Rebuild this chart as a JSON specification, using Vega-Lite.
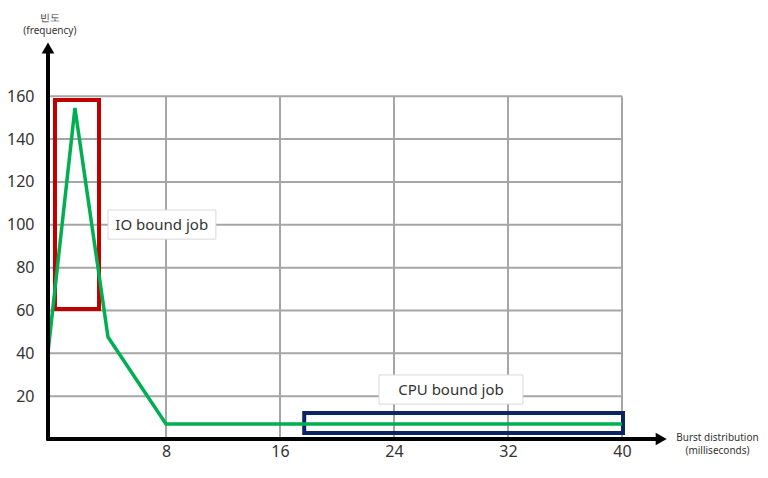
{
  "$schema": "https://vega.github.io/schema/vega-lite/v6.json",
  "autosize": "none",
  "width": 631,
  "height": 407,
  "padding": {"left": 48, "top": 32, "right": 89, "bottom": 39},
  "background": "white",
  "config": {"view": {"stroke": null}, "font": "Noto Sans"},
  "datasets": {
    "hgrid": [{"v": 20}, {"v": 40}, {"v": 60}, {"v": 80}, {"v": 100}, {"v": 120}, {"v": 140}, {"v": 160}],
    "vgrid": [{"v": 8}, {"v": 16}, {"v": 24}, {"v": 32}, {"v": 40}],
    "freq": [
      {"burst": -0.28, "frequency": 40.5},
      {"burst": 1.61, "frequency": 154.5},
      {"burst": 3.93, "frequency": 47.6},
      {"burst": 8, "frequency": 7},
      {"burst": 40, "frequency": 7}
    ],
    "frames": [
      {"name": "IO", "x1": 0.21, "x2": 3.3, "y1": 60.7, "y2": 158.2},
      {"name": "CPU", "x1": 17.7, "x2": 40.07, "y1": 2.8, "y2": 12.1}
    ],
    "labels": [
      {"label": "IO bound job", "x1": 3.93, "x2": 11.5, "y1": 93.3, "y2": 106.9, "xc": 7.7, "yc": 100.1},
      {"label": "CPU bound job", "x1": 22.95, "x2": 33.05, "y1": 16.3, "y2": 29.9, "xc": 28.0, "yc": 23.1}
    ],
    "titles": [
      {"t": ["빈도", "(frequency)"], "x": -0.15, "y": 196.7},
      {"t": ["Burst distribution", "(milliseconds)"], "x": 46.7, "y": 0.45}
    ]
  },
  "layer": [
    {
      "data": {"name": "hgrid"},
      "mark": {"type": "rule", "color": "#a6a6a6", "strokeWidth": 2},
      "encoding": {
        "y": {"field": "v", "type": "quantitative",
              "scale": {"domain": [0, 190], "nice": false, "zero": false},
              "axis": {"values": [20, 40, 60, 80, 100, 120, 140, 160], "domain": false, "ticks": false, "tickSize": 0, "grid": false, "title": null,
                       "labelPadding": 14, "labelFontSize": 16, "labelColor": "#333333", "labelFont": "Noto Sans"}},
        "x": {"datum": -0.28, "type": "quantitative",
              "scale": {"domain": [-0.28, 44], "nice": false, "zero": false},
              "axis": {"values": [8, 16, 24, 32, 40], "domain": false, "ticks": false, "tickSize": 0, "grid": false, "title": null,
                       "labelPadding": 4, "labelFontSize": 16, "labelColor": "#333333", "labelFont": "Noto Sans"}},
        "x2": {"datum": 40}
      }
    },
    {
      "data": {"name": "vgrid"},
      "mark": {"type": "rule", "color": "#a6a6a6", "strokeWidth": 2},
      "encoding": {
        "x": {"field": "v", "type": "quantitative"},
        "y": {"datum": 0, "type": "quantitative"},
        "y2": {"datum": 160}
      }
    },
    {
      "data": {"name": "frames"},
      "mark": {"type": "rect", "fill": null, "fillOpacity": 0, "strokeWidth": 4},
      "encoding": {
        "x": {"field": "x1", "type": "quantitative"},
        "x2": {"field": "x2"},
        "y": {"field": "y1", "type": "quantitative"},
        "y2": {"field": "y2"},
        "stroke": {"field": "name", "type": "nominal", "scale": {"domain": ["IO", "CPU"], "range": ["#c00000", "#0c2461"]}, "legend": null}
      }
    },
    {
      "data": {"name": "freq"},
      "mark": {"type": "line", "color": "#00b050", "strokeWidth": 3.5},
      "encoding": {
        "x": {"field": "burst", "type": "quantitative"},
        "y": {"field": "frequency", "type": "quantitative"}
      }
    },
    {
      "data": {"name": "labels"},
      "mark": {"type": "rect", "fill": "white", "stroke": "#d9d9d9", "strokeWidth": 1},
      "encoding": {
        "x": {"field": "x1", "type": "quantitative"},
        "x2": {"field": "x2"},
        "y": {"field": "y1", "type": "quantitative"},
        "y2": {"field": "y2"}
      }
    },
    {
      "data": {"name": "labels"},
      "mark": {"type": "text", "fontSize": 15, "color": "#333333", "align": "center", "baseline": "middle", "font": "Noto Sans"},
      "encoding": {
        "x": {"field": "xc", "type": "quantitative"},
        "y": {"field": "yc", "type": "quantitative"},
        "text": {"field": "label"}
      }
    },
    {
      "data": {"values": [{"a": 1}]},
      "mark": {"type": "rule", "color": "black", "strokeWidth": 4},
      "encoding": {
        "x": {"datum": -0.28, "type": "quantitative"},
        "y": {"datum": -0.5, "type": "quantitative"},
        "y2": {"datum": 182}
      }
    },
    {
      "data": {"values": [{"a": 1}]},
      "mark": {"type": "rule", "color": "black", "strokeWidth": 4},
      "encoding": {
        "y": {"datum": 0, "type": "quantitative"},
        "x": {"datum": -0.4, "type": "quantitative"},
        "x2": {"datum": 42.7}
      }
    },
    {
      "data": {"values": [{"a": 1}]},
      "mark": {"type": "point", "shape": "triangle-up", "filled": true, "color": "black", "size": 160, "opacity": 1},
      "encoding": {
        "x": {"datum": -0.28, "type": "quantitative"},
        "y": {"datum": 182.5, "type": "quantitative"}
      }
    },
    {
      "data": {"values": [{"a": 1}]},
      "mark": {"type": "point", "shape": "triangle-right", "filled": true, "color": "black", "size": 160, "opacity": 1},
      "encoding": {
        "x": {"datum": 42.75, "type": "quantitative"},
        "y": {"datum": 0, "type": "quantitative"}
      }
    },
    {
      "data": {"name": "titles"},
      "mark": {"type": "text", "fontSize": 10, "lineHeight": 13, "color": "#333333", "align": "center", "baseline": "middle", "font": "Noto Sans"},
      "encoding": {
        "x": {"field": "x", "type": "quantitative"},
        "y": {"field": "y", "type": "quantitative"},
        "text": {"field": "t"}
      }
    }
  ]
}
